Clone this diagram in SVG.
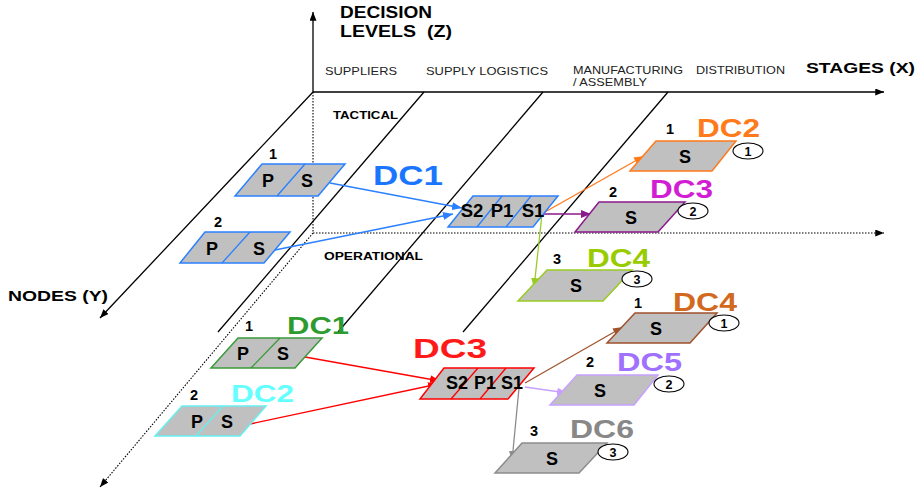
<svg xmlns="http://www.w3.org/2000/svg" width="923" height="494" viewBox="0 0 923 494">
  <style>
    .bg { fill: #ffffff; }
    .axis { stroke: #000; stroke-width: 1.3; fill: none; }
    .dotted { stroke: #000; stroke-width: 1.1; stroke-dasharray: 1.5 1.5; fill: none; }
    .node { fill: #c0c0c0; stroke-width: 1.5; stroke-linejoin: miter; }
    .div { fill: none; stroke-width: 1.3; }
    .lbl { font-family: "Liberation Sans", Arial, sans-serif; font-weight: bold; fill: #000; }
    .cell { font-size: 18px; text-anchor: middle; }
    .cell3 { font-size: 18.5px; text-anchor: middle; }
    .num { font-size: 14.5px; text-anchor: middle; }
    .stage { font-family: "Liberation Sans", Arial, sans-serif; font-size: 11px; fill: #222; }
    .ring { fill: #fff; stroke: #000; stroke-width: 1.1; }
    .ringtxt { font-family: "Liberation Sans", Arial, sans-serif; font-size: 12.5px; font-weight: bold; text-anchor: middle; fill: #000; }
    .link { fill: none; stroke-width: 1.3; }
  </style>
  <defs>
    <marker id="ah-black" viewBox="0 0 10 8" refX="10" refY="4" markerWidth="9" markerHeight="7" markerUnits="userSpaceOnUse" orient="auto"><path d="M0,0 L10,4 L0,8 z" fill="#000"/></marker>
    <marker id="ah-blue" viewBox="0 0 10 8" refX="10" refY="4" markerWidth="10" markerHeight="8" markerUnits="userSpaceOnUse" orient="auto"><path d="M0,0 L10,4 L0,8 z" fill="#2a80ff"/></marker>
    <marker id="ah-orange" viewBox="0 0 10 8" refX="10" refY="4" markerWidth="10" markerHeight="8" markerUnits="userSpaceOnUse" orient="auto"><path d="M0,0 L10,4 L0,8 z" fill="#ff7a1a"/></marker>
    <marker id="ah-purple" viewBox="0 0 10 8" refX="10" refY="4" markerWidth="10" markerHeight="8" markerUnits="userSpaceOnUse" orient="auto"><path d="M0,0 L10,4 L0,8 z" fill="#8b1a8b"/></marker>
    <marker id="ah-lime" viewBox="0 0 10 8" refX="10" refY="4" markerWidth="10" markerHeight="8" markerUnits="userSpaceOnUse" orient="auto"><path d="M0,0 L10,4 L0,8 z" fill="#99cc22"/></marker>
    <marker id="ah-red" viewBox="0 0 10 8" refX="10" refY="4" markerWidth="10" markerHeight="8" markerUnits="userSpaceOnUse" orient="auto"><path d="M0,0 L10,4 L0,8 z" fill="#ff0000"/></marker>
    <marker id="ah-brown" viewBox="0 0 10 8" refX="10" refY="4" markerWidth="10" markerHeight="8" markerUnits="userSpaceOnUse" orient="auto"><path d="M0,0 L10,4 L0,8 z" fill="#a0522d"/></marker>
    <marker id="ah-lav" viewBox="0 0 10 8" refX="10" refY="4" markerWidth="10" markerHeight="8" markerUnits="userSpaceOnUse" orient="auto"><path d="M0,0 L10,4 L0,8 z" fill="#c8a0ff"/></marker>
    <marker id="ah-gray" viewBox="0 0 10 8" refX="10" refY="4" markerWidth="10" markerHeight="8" markerUnits="userSpaceOnUse" orient="auto"><path d="M0,0 L10,4 L0,8 z" fill="#8c8c8c"/></marker>
  </defs>

  <rect class="bg" x="0" y="0" width="923" height="494"/>

  <!-- Axes and stage dividers -->
  <g id="axes">
    <line class="axis" x1="313" y1="92" x2="313" y2="12" marker-end="url(#ah-black)"/>
    <line class="axis" x1="313" y1="92" x2="884" y2="92" marker-end="url(#ah-black)"/>
    <line class="axis" x1="313" y1="92" x2="100" y2="318" marker-end="url(#ah-black)"/>
    <line class="axis" x1="424" y1="92" x2="218" y2="332"/>
    <line class="axis" x1="543" y1="92" x2="338" y2="332"/>
    <line class="axis" x1="668" y1="92" x2="463" y2="332"/>
    <line class="dotted" x1="313" y1="92" x2="313" y2="233"/>
    <line class="dotted" x1="313" y1="233" x2="884" y2="233" marker-end="url(#ah-black)"/>
    <line class="dotted" x1="313" y1="233" x2="100" y2="487" marker-end="url(#ah-black)"/>
  </g>

  <!-- Axis and stage labels -->
  <g id="labels">
    <text class="lbl" x="340" y="18" font-size="17" textLength="92" lengthAdjust="spacingAndGlyphs">DECISION</text>
    <text class="lbl" x="340" y="37" font-size="17" textLength="112" lengthAdjust="spacingAndGlyphs" xml:space="preserve">LEVELS  (Z)</text>
    <text class="lbl" x="806" y="73" font-size="15.5" textLength="109" lengthAdjust="spacingAndGlyphs">STAGES (X)</text>
    <text class="lbl" x="8" y="301" font-size="15.5" textLength="100" lengthAdjust="spacingAndGlyphs">NODES (Y)</text>
    <text class="lbl" x="333" y="119" font-size="11" textLength="65" lengthAdjust="spacingAndGlyphs">TACTICAL</text>
    <text class="lbl" x="324" y="260" font-size="11" textLength="99" lengthAdjust="spacingAndGlyphs">OPERATIONAL</text>
    <text class="stage" x="325" y="75" textLength="72" lengthAdjust="spacingAndGlyphs">SUPPLIERS</text>
    <text class="stage" x="426" y="75" textLength="122" lengthAdjust="spacingAndGlyphs">SUPPLY LOGISTICS</text>
    <text class="stage" x="573" y="74" textLength="110" lengthAdjust="spacingAndGlyphs">MANUFACTURING</text>
    <text class="stage" x="573" y="86" textLength="74" lengthAdjust="spacingAndGlyphs">/ ASSEMBLY</text>
    <text class="stage" x="696" y="74" textLength="89" lengthAdjust="spacingAndGlyphs">DISTRIBUTION</text>
  </g>

  <!-- Connectors -->
  <g id="connectors">
    <line class="link" stroke="#2a80ff" x1="330" y1="183" x2="462" y2="208" marker-end="url(#ah-blue)"/>
    <line class="link" stroke="#2a80ff" x1="275" y1="250" x2="453" y2="214" marker-end="url(#ah-blue)"/>
    <line class="link" stroke="#ff7a1a" x1="545" y1="212" x2="644" y2="156" marker-end="url(#ah-orange)"/>
    <line class="link" stroke="#8b1a8b" x1="542" y1="214" x2="591" y2="214" marker-end="url(#ah-purple)"/>
    <line class="link" stroke="#99cc22" x1="542" y1="214" x2="534" y2="288" marker-end="url(#ah-lime)"/>
    <line class="link" stroke="#ff0000" x1="305" y1="357" x2="440" y2="381" marker-end="url(#ah-red)"/>
    <line class="link" stroke="#ff0000" x1="250" y1="424" x2="438" y2="384" marker-end="url(#ah-red)"/>
    <line class="link" stroke="#a0522d" x1="525" y1="383" x2="623" y2="327" marker-end="url(#ah-brown)"/>
    <line class="link" stroke="#c8a0ff" x1="525" y1="387" x2="567" y2="393" marker-end="url(#ah-lav)"/>
    <line class="link" stroke="#8c8c8c" x1="519" y1="388" x2="512" y2="461" marker-end="url(#ah-gray)"/>
  </g>

  <!-- Tactical level: suppliers -->
  <g id="t-sup1">
    <polygon class="node" stroke="#2a80ff" points="262,164 345,164 318,196 235,196"/>
    <line class="div" stroke="#2a80ff" x1="305" y1="164" x2="277" y2="196"/>
    <text class="lbl cell" x="268" y="187">P</text>
    <text class="lbl cell" x="307" y="187">S</text>
    <text class="lbl num" x="273" y="159">1</text>
  </g>
  <g id="t-sup2">
    <polygon class="node" stroke="#2a80ff" points="205,232 290,232 264,263 180,263"/>
    <line class="div" stroke="#2a80ff" x1="250" y1="232" x2="222" y2="263"/>
    <text class="lbl cell" x="212" y="255">P</text>
    <text class="lbl cell" x="259" y="255">S</text>
    <text class="lbl num" x="218" y="227">2</text>
  </g>

  <!-- Tactical level: DC1 -->
  <g id="t-dc1">
    <polygon class="node" stroke="#2a80ff" points="473,196 558,196 533,227 448,227"/>
    <line class="div" stroke="#2a80ff" x1="502" y1="196" x2="477" y2="227"/>
    <line class="div" stroke="#2a80ff" x1="531" y1="196" x2="506" y2="227"/>
    <text class="lbl" x="373" y="185" style="font-size:27px;fill:#1a75ff" textLength="70" lengthAdjust="spacingAndGlyphs">DC1</text>
    <text class="lbl cell3" x="472" y="217">S2</text>
    <text class="lbl cell3" x="502" y="217">P1</text>
    <text class="lbl cell3" x="533" y="217">S1</text>
  </g>

  <!-- Tactical level: customers -->
  <g id="t-dc2">
    <polygon class="node" stroke="#ff7a1a" points="656,141 736,141 712,171 630,171"/>
    <text class="lbl cell" x="685" y="163">S</text>
    <text class="lbl num" x="670" y="134">1</text>
    <text class="lbl" x="697" y="137" style="font-size:25px;fill:#ff7a1a" textLength="63" lengthAdjust="spacingAndGlyphs">DC2</text>
    <ellipse class="ring" cx="748" cy="151" rx="15" ry="8"/>
    <text class="ringtxt" x="748" y="155.5">1</text>
  </g>
  <g id="t-dc3">
    <polygon class="node" stroke="#8b1a8b" points="599,202 685,202 658,232 575,232"/>
    <text class="lbl cell" x="631" y="224">S</text>
    <text class="lbl num" x="613" y="197">2</text>
    <text class="lbl" x="650" y="198" style="font-size:25px;fill:#d21ed2" textLength="63" lengthAdjust="spacingAndGlyphs">DC3</text>
    <ellipse class="ring" cx="693" cy="211" rx="15" ry="8"/>
    <text class="ringtxt" x="693" y="215.5">2</text>
  </g>
  <g id="t-dc4">
    <polygon class="node" stroke="#99cc22" points="547,270 632,270 603,301 518,301"/>
    <text class="lbl cell" x="576" y="292">S</text>
    <text class="lbl num" x="557" y="264">3</text>
    <text class="lbl" x="587" y="267" style="font-size:25px;fill:#99cc00" textLength="63" lengthAdjust="spacingAndGlyphs">DC4</text>
    <ellipse class="ring" cx="637" cy="279" rx="15" ry="8"/>
    <text class="ringtxt" x="637" y="283.5">3</text>
  </g>

  <!-- Operational level: suppliers -->
  <g id="o-dc1">
    <polygon class="node" stroke="#3a9a3a" points="238,338 322,338 295,368 211,368"/>
    <line class="div" stroke="#3a9a3a" x1="280" y1="338" x2="251" y2="368"/>
    <text class="lbl cell" x="243" y="360">P</text>
    <text class="lbl cell" x="283" y="360">S</text>
    <text class="lbl num" x="249" y="331">1</text>
    <text class="lbl" x="287" y="334" style="font-size:24px;fill:#2e9b2e" textLength="62" lengthAdjust="spacingAndGlyphs">DC1</text>
  </g>
  <g id="o-dc2">
    <polygon class="node" stroke="#66f0f0" points="182,406 266,406 240,436 155,436"/>
    <line class="div" stroke="#66f0f0" x1="223" y1="406" x2="196" y2="436"/>
    <text class="lbl cell" x="197" y="428">P</text>
    <text class="lbl cell" x="227" y="428">S</text>
    <text class="lbl num" x="194" y="400">2</text>
    <text class="lbl" x="231" y="402" style="font-size:24px;fill:#66ffff" textLength="63" lengthAdjust="spacingAndGlyphs">DC2</text>
  </g>

  <!-- Operational level: DC3 -->
  <g id="o-dc3">
    <polygon class="node" stroke="#ff0000" points="444,368 534,368 508,399 420,399"/>
    <line class="div" stroke="#ff0000" x1="478" y1="368" x2="451" y2="399"/>
    <line class="div" stroke="#ff0000" x1="506" y1="368" x2="480" y2="399"/>
    <text class="lbl" x="413" y="358" style="font-size:27px;fill:#ff1a1a" textLength="74" lengthAdjust="spacingAndGlyphs">DC3</text>
    <text class="lbl cell" x="457" y="389">S2</text>
    <text class="lbl cell" x="485" y="389">P1</text>
    <text class="lbl cell" x="512" y="389">S1</text>
  </g>

  <!-- Operational level: customers -->
  <g id="o-dc4">
    <polygon class="node" stroke="#a0522d" points="635,313 717,313 690,343 607,343"/>
    <text class="lbl cell" x="656" y="335">S</text>
    <text class="lbl num" x="638" y="308">1</text>
    <text class="lbl" x="673" y="311" style="font-size:25px;fill:#d2691e" textLength="64" lengthAdjust="spacingAndGlyphs">DC4</text>
    <ellipse class="ring" cx="724" cy="323" rx="15" ry="8"/>
    <text class="ringtxt" x="724" y="327.5">1</text>
  </g>
  <g id="o-dc5">
    <polygon class="node" stroke="#c8a0ff" points="577,375 658,375 634,405 550,405"/>
    <text class="lbl cell" x="600" y="397">S</text>
    <text class="lbl num" x="590" y="367">2</text>
    <text class="lbl" x="617" y="371" style="font-size:25px;fill:#a070ff" textLength="65" lengthAdjust="spacingAndGlyphs">DC5</text>
    <ellipse class="ring" cx="669" cy="384" rx="15" ry="8"/>
    <text class="ringtxt" x="669" y="388.5">2</text>
  </g>
  <g id="o-dc6">
    <polygon class="node" stroke="#8c8c8c" points="522,443 607,443 579,473 495,473"/>
    <text class="lbl cell" x="552" y="465">S</text>
    <text class="lbl num" x="534" y="436">3</text>
    <text class="lbl" x="570" y="438" style="font-size:25px;fill:#888888" textLength="64" lengthAdjust="spacingAndGlyphs">DC6</text>
    <ellipse class="ring" cx="613" cy="452" rx="15" ry="8"/>
    <text class="ringtxt" x="613" y="456.5">3</text>
  </g>
</svg>
